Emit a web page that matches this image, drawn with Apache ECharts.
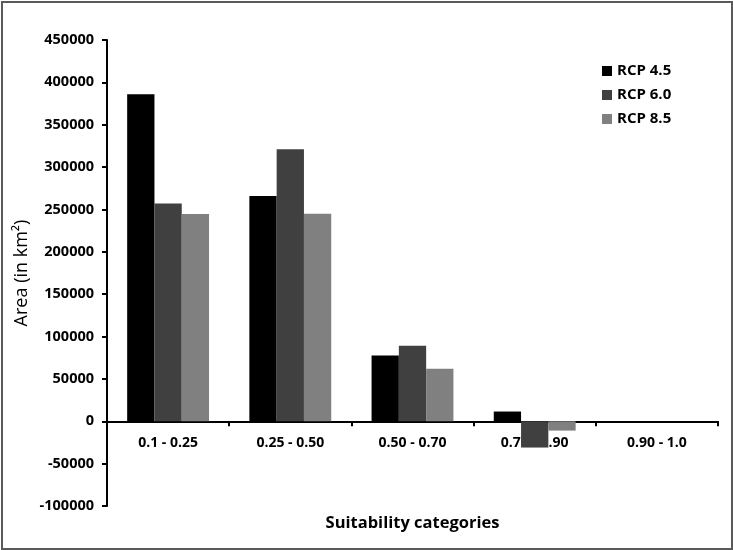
<!DOCTYPE html>
<html>
<head>
<meta charset="utf-8">
<script src="https://cdn.jsdelivr.net/npm/echarts@6/dist/echarts.min.js"></script>
<style>
  html, body { margin: 0; padding: 0; background: #fff; }
  #chart { position: absolute; left: 0; top: 0; width: 733px; height: 550px; }
  #frame {
    position: absolute; left: 1px; top: 1px; width: 728px; height: 545px;
    border: 2px solid #5a5a5a; pointer-events: none;
  }
</style>
</head>
<body>
<div id="chart"></div>
<div id="frame"></div>
<script>
// 适宜性分区面积变化（km²）
var categories = ["0.1 - 0.25", "0.25 - 0.50", "0.50 - 0.70", "0.70 - 0.90", "0.90 - 1.0"];
var rcp45 = [386000, 266000, 77500, 11500, 0];
var rcp60 = [257000, 321000, 89000, -31000, 0];
var rcp85 = [244500, 245000, 62000, -11000, 0];
var seriesNames = ["RCP 4.5", "RCP 6.0", "RCP 8.5"];
var yTicks = [-100000, 450000, 50000]; // min, max, interval

var FONT = "Open Sans";
var GRID = { left: 107, right: 15, top: 40, bottom: 44 };
var chartH = 550;
// x轴放在 0 刻度处（v6 里 onZero 标签不跟随，改用 offset）
var plotH = chartH - GRID.top - GRID.bottom;
var zeroOffset = -plotH * (0 - yTicks[0]) / (yTicks[1] - yTicks[0]);

var chart = echarts.init(document.getElementById("chart"));

function barSeries(name, data, color) {
  return {
    name: name,
    type: "bar",
    data: data,
    barGap: "0%",
    barCategoryGap: "33%",
    itemStyle: { color: color },
    animation: false
  };
}

chart.setOption({
  backgroundColor: "#fff",
  grid: {
    left: GRID.left, right: GRID.right, top: GRID.top, bottom: GRID.bottom,
    containLabel: false, outerBoundsMode: "none"
  },
  legend: {
    data: seriesNames,
    orient: "vertical",
    left: 597,
    top: 57,
    itemWidth: 10,
    itemHeight: 10,
    itemGap: 6,
    icon: "rect",
    textStyle: { fontFamily: FONT, fontWeight: "bold", fontSize: 15, color: "#000", lineHeight: 18 }
  },
  xAxis: {
    type: "category",
    data: categories,
    position: "bottom",
    offset: zeroOffset,
    name: "Suitability categories",
    nameLocation: "middle",
    nameGap: 94,
    nameTextStyle: { fontFamily: FONT, fontWeight: "bold", fontSize: 16.5, color: "#000" },
    axisLine: { onZero: false, lineStyle: { color: "#000", width: 2 } },
    axisTick: { show: true, inside: false, length: 5, lineStyle: { color: "#000", width: 2 } },
    axisLabel: { interval: 0, margin: 15, fontFamily: FONT, fontWeight: "bold", fontSize: 14, color: "#000" },
    splitLine: { show: false }
  },
  yAxis: {
    type: "value",
    min: yTicks[0],
    max: yTicks[1],
    interval: yTicks[2],
    name: "Area (in km²)",
    nameLocation: "middle",
    nameGap: 76,
    nameMoveOverlap: false,
    nameTextStyle: { fontFamily: FONT, fontSize: 18, color: "#000" },
    axisLine: { show: true, lineStyle: { color: "#000", width: 2 } },
    axisTick: { show: true, length: 5, lineStyle: { color: "#000", width: 2 } },
    axisLabel: {
      margin: 13, fontFamily: FONT, fontWeight: "bold", fontSize: 14.5, color: "#000",
      formatter: function (v) { return String(v); }
    },
    splitLine: { show: false }
  },
  series: [
    barSeries(seriesNames[0], rcp45, "#000000"),
    barSeries(seriesNames[1], rcp60, "#404040"),
    barSeries(seriesNames[2], rcp85, "#808080")
  ]
});
</script>
</body>
</html>
